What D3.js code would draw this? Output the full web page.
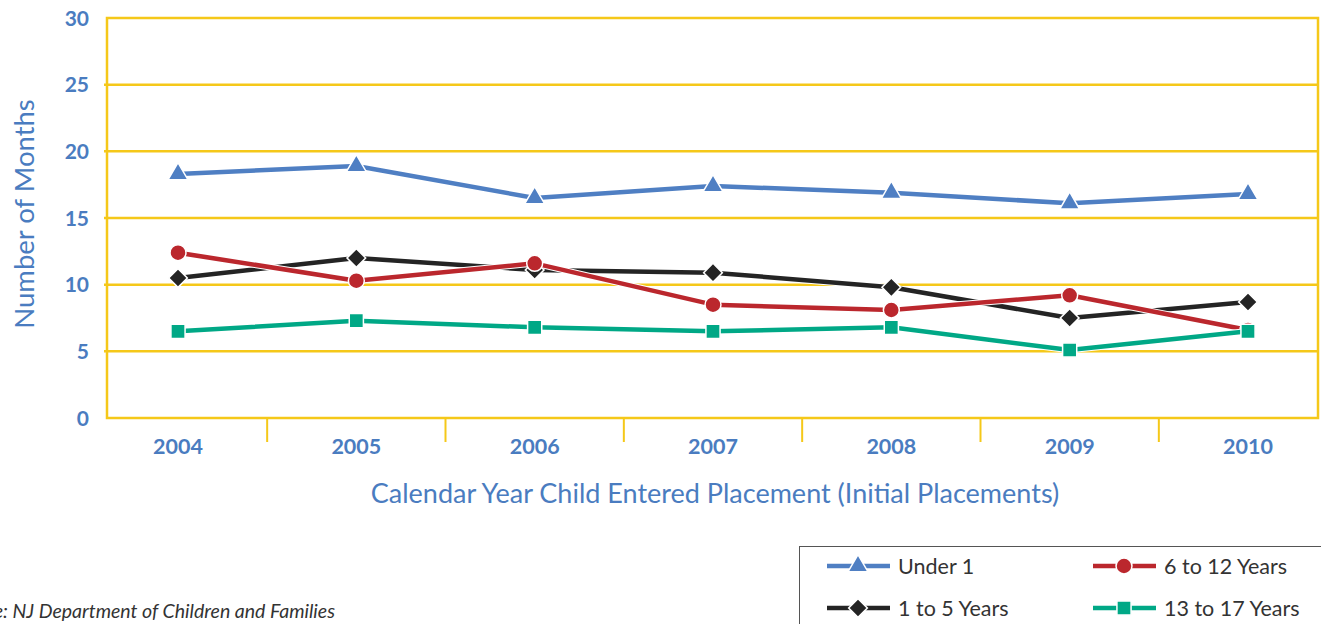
<!DOCTYPE html>
<html>
<head>
<meta charset="utf-8">
<script src="https://cdn.jsdelivr.net/npm/d3@7"></script>
<style>
  html, body { margin: 0; padding: 0; background: #fff; }
  svg { display: block; }
</style>
</head>
<body>
<svg id="chart" width="1321" height="624"></svg>
<script>
const years = ["2004", "2005", "2006", "2007", "2008", "2009", "2010"];
const yTicks = [0, 5, 10, 15, 20, 25, 30];
const under1 = [18.3, 18.9, 16.5, 17.4, 16.9, 16.1, 16.8];
const oneToFive = [10.5, 12.0, 11.1, 10.9, 9.8, 7.5, 8.7];
const sixToTwelve = [12.4, 10.3, 11.6, 8.5, 8.1, 9.2, 6.6];
const thirteenToSeventeen = [6.5, 7.3, 6.8, 6.5, 6.8, 5.1, 6.5];
const seriesNames = ["Under 1", "1 to 5 Years", "6 to 12 Years", "13 to 17 Years"];

const series = [
  { name: seriesNames[0], values: under1, color: "#4f7fc3", marker: d3.symbolTriangle, size: 170, rot: 0 },
  { name: seriesNames[1], values: oneToFive, color: "#242424", marker: d3.symbolSquare, size: 175, rot: 45 },
  { name: seriesNames[2], values: sixToTwelve, color: "#bb272d", marker: d3.symbolCircle, size: 200, rot: 0 },
  { name: seriesNames[3], values: thirteenToSeventeen, color: "#00a886", marker: d3.symbolSquare, size: 200, rot: 0 }
];

const svg = d3.select("#chart");
const font = "Lato, 'Open Sans', sans-serif";
const blue = "#4a7cc0";
const gold = "#f5c819";

const pLeft = 107, pRight = 1318, pTop = 18, pBottom = 418;
const x = d3.scalePoint().domain(years).range([178, 1248]);
const y = d3.scaleLinear().domain([0, 30]).range([pBottom, pTop]);

// gridlines
svg.append("g")
  .selectAll("line")
  .data(yTicks.filter(t => t > 0 && t < 30))
  .join("line")
  .attr("x1", pLeft - 3).attr("x2", pRight)
  .attr("y1", d => y(d)).attr("y2", d => y(d))
  .attr("stroke", gold).attr("stroke-width", 2.5);

// frame
svg.append("rect")
  .attr("x", pLeft).attr("y", pTop)
  .attr("width", pRight - pLeft).attr("height", pBottom - pTop)
  .attr("fill", "none").attr("stroke", gold).attr("stroke-width", 2.5);

// y tick labels
svg.append("g")
  .selectAll("text")
  .data(yTicks)
  .join("text")
  .attr("x", 89).attr("y", d => y(d))
  .attr("dy", "0.36em")
  .attr("text-anchor", "end")
  .attr("font-family", font).attr("font-weight", "bold")
  .attr("font-size", 21).attr("fill", blue)
  .text(d => d);

// x axis separators
const step = x.step();
svg.append("g")
  .selectAll("line")
  .data(years.slice(1))
  .join("line")
  .attr("x1", d => x(d) - step / 2).attr("x2", d => x(d) - step / 2)
  .attr("y1", pBottom).attr("y2", 442)
  .attr("stroke", gold).attr("stroke-width", 2);

// x tick labels
svg.append("g")
  .selectAll("text")
  .data(years)
  .join("text")
  .attr("x", d => x(d)).attr("y", 454)
  .attr("text-anchor", "middle")
  .attr("font-family", font).attr("font-weight", "bold")
  .attr("font-size", 21.5).attr("fill", blue)
  .text(d => d);

// axis titles
svg.append("text")
  .attr("transform", "translate(34,214) rotate(-90)")
  .attr("text-anchor", "middle")
  .attr("font-family", font).attr("font-size", 27.5).attr("fill", blue)
  .text("Number of Months");

svg.append("text")
  .attr("x", 715).attr("y", 503)
  .attr("text-anchor", "middle")
  .attr("font-family", font).attr("font-size", 27).attr("fill", blue)
  .text("Calendar Year Child Entered Placement (Initial Placements)");

// lines and markers
const line = d3.line().x((d, i) => x(years[i])).y(d => y(d));
series.forEach(s => {
  const g = svg.append("g");
  g.append("path")
    .attr("d", line(s.values))
    .attr("fill", "none").attr("stroke", "#fff").attr("stroke-width", 6.5)
    .attr("stroke-linejoin", "round");
  g.append("path")
    .attr("d", line(s.values))
    .attr("fill", "none").attr("stroke", s.color).attr("stroke-width", 4.5)
    .attr("stroke-linejoin", "round");
  g.selectAll("path.m")
    .data(s.values)
    .join("path")
    .attr("class", "m")
    .attr("transform", (d, i) => `translate(${x(years[i])},${y(d)}) rotate(${s.rot})`)
    .attr("d", d3.symbol().type(s.marker).size(s.size))
    .attr("fill", s.color).attr("stroke", "#fff").attr("stroke-width", 1.5);
});

// legend
svg.append("rect")
  .attr("x", 799.5).attr("y", 546.5)
  .attr("width", 540).attr("height", 100)
  .attr("fill", "#fff").attr("stroke", "#555").attr("stroke-width", 1);

const legendPos = [
  { s: series[0], lx: 827, ly: 566 },
  { s: series[2], lx: 1093, ly: 566 },
  { s: series[1], lx: 827, ly: 608 },
  { s: series[3], lx: 1093, ly: 608 }
];
legendPos.forEach(p => {
  const g = svg.append("g");
  g.append("line")
    .attr("x1", p.lx).attr("x2", p.lx + 63)
    .attr("y1", p.ly).attr("y2", p.ly)
    .attr("stroke", p.s.color).attr("stroke-width", 4.5);
  g.append("path")
    .attr("transform", `translate(${p.lx + 31},${p.ly}) rotate(${p.s.rot})`)
    .attr("d", d3.symbol().type(p.s.marker).size(p.s.size))
    .attr("fill", p.s.color).attr("stroke", "#fff").attr("stroke-width", 1.5);
  g.append("text")
    .attr("x", p.lx + 71).attr("y", p.ly)
    .attr("dy", "0.36em")
    .attr("font-family", font).attr("font-size", 21.5).attr("fill", "#333")
    .text(p.s.name);
});

// source
svg.append("text")
  .attr("x", 335).attr("y", 618)
  .attr("text-anchor", "end")
  .attr("font-family", font).attr("font-style", "italic")
  .attr("font-size", 19.5).attr("fill", "#333")
  .text("Source: NJ Department of Children and Families");
</script>
</body>
</html>
